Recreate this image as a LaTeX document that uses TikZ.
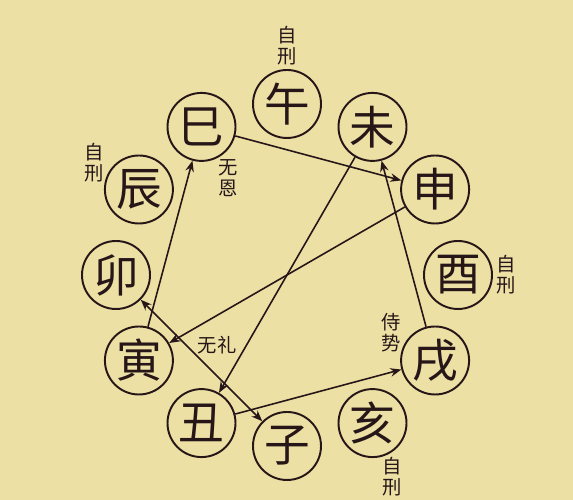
\documentclass[tikz,border=0pt]{standalone}
\usepackage{fontspec}
\setmainfont{Noto Sans CJK SC}
\usetikzlibrary{positioning,arrows.meta}
\definecolor{fond}{RGB}{236,224,165}
\definecolor{encre}{RGB}{38,22,24}
\tikzset { zhi/.style={circle, draw=encre, line width=1.1pt, minimum size=1.36cm, inner sep=0pt, text=encre, font=\fontsize{26}{26}\selectfont},
  note/.style={text=encre, font=\fontsize{11}{12}\selectfont, align=center, inner sep=0pt},
  fleche/.style={draw=encre, line width=0.9pt, -{Stealth[length=2.2mm, width=1.7mm]}} }

\begin{document}
\begin{tikzpicture}
  \fill[fond] (0, 0) rectangle (11.46, 10);
  \useasboundingbox (0, 0) rectangle (11.46, 10);
  \begin{scope}[shift={(5.74, 4.5)}]
    \foreach \nom/\car/\ang in {wu/午/90, wei/未/60, shen/申/30, you/酉/0, xu/戌/-30, hai/亥/-60,
      zi/子/-90, chou/丑/-120, yin/寅/-150, mao/卯/180, chen/辰/150, si/巳/120}
      \node[zhi] (\nom) at (\ang:3.42) {\car};
  \end{scope}
	% \draw[fleche] (si) -- (yin);
	\draw[fleche] (yin) -- (si);
	\draw[fleche] (si) -- (shen);
	\draw[fleche] (shen) -- (yin);
	\draw[fleche] (wei) -- (chou);
	\draw[fleche] (chou) -- (xu);
	\draw[fleche] (xu) -- (wei);
	\draw[fleche, {Stealth[length=2.2mm, width=1.7mm]}-{Stealth[length=2.2mm, width=1.7mm]}] (mao) -- (zi);
	\node[note, above=2pt of wu] (zixingwu) {自\\刑};
	\node[note, right=2pt of you] (zixingyou) {自\\刑};
	\node[note] (zixingchen) at (1.88, 6.74) {自\\刑};
	\node[note] (zixinghai) at (7.84, 0.46) {自\\刑};
	\node[note] (wuen) at (4.56, 6.44) {无\\恩};
	\node[note] (shishi) at (7.82, 3.34) {侍\\势};
	\node[note] (wuli) at (4.34, 3.1) {无礼};
\end{tikzpicture}
\end{document}
